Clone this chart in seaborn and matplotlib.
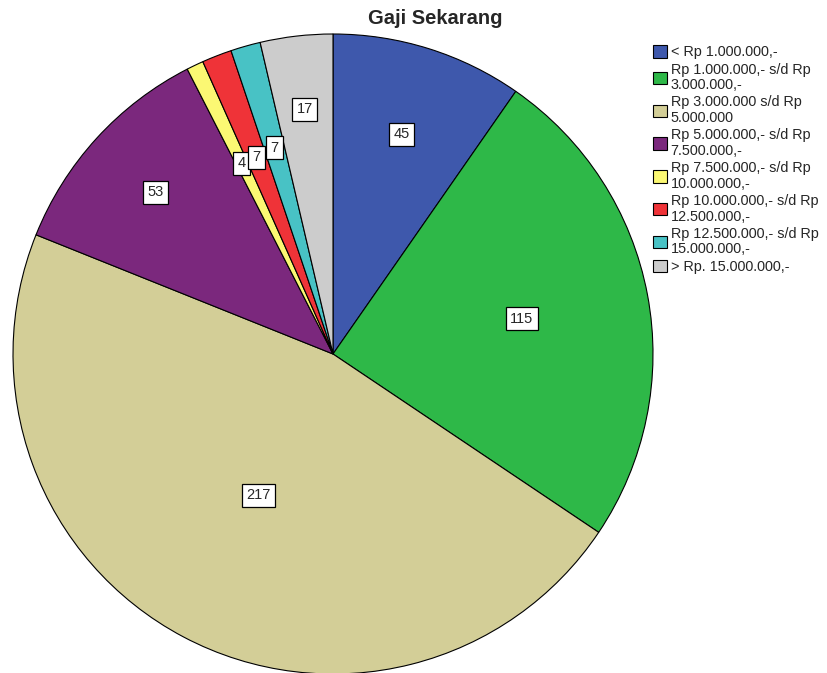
import numpy as np
import matplotlib
matplotlib.use("Agg")
import matplotlib.pyplot as plt
import seaborn as sns

# data
categories = ["< Rp 1.000.000,-",
              "Rp 1.000.000,- s/d Rp\n3.000.000,-",
              "Rp 3.000.000 s/d Rp\n5.000.000",
              "Rp 5.000.000,- s/d Rp\n7.500.000,-",
              "Rp 7.500.000,- s/d Rp\n10.000.000,-",
              "Rp 10.000.000,- s/d Rp\n12.500.000,-",
              "Rp 12.500.000,- s/d Rp\n15.000.000,-",
              "> Rp. 15.000.000,-"]
counts = [45, 115, 217, 53, 4, 7, 7, 17]
colors = ["#3E58AC", "#2EB848", "#D3CE97", "#7B287D",
          "#FBF873", "#EF3338", "#48C2C5", "#CCCCCC"]
# how far out each count label sits (fraction of radius)
label_r = [0.72, 0.6, 0.5, 0.75, 0.66, 0.66, 0.67, 0.77]

sns.set_style("white")
plt.rcParams['font.family'] = ['Liberation Sans', 'DejaVu Sans']

fig = plt.figure(figsize=(8.27, 6.73), dpi=100)
ax = fig.add_axes([13/827, -1/673, 640/827, 640/673])

wedges, _ = ax.pie(counts, colors=sns.color_palette(colors), startangle=90,
                   counterclock=False, radius=1,
                   wedgeprops=dict(edgecolor="black", linewidth=0.8))
ax.set_xlim(-1, 1)
ax.set_ylim(-1, 1)
ax.set_aspect("equal")
ax.axis("off")

for w, n, r in zip(wedges, counts, label_r):
    ang = np.deg2rad((w.theta1 + w.theta2) / 2)
    ax.text(r * np.cos(ang), r * np.sin(ang), str(n), ha="center", va="center",
            fontsize=10.5,
            bbox=dict(boxstyle="square,pad=0.3", fc="white", ec="black", lw=0.9))

fig.text(435/827, 1 - 19/673, "Gaji Sekarang", ha="center", va="center",
         fontsize=14.5, fontweight="bold")

leg = fig.legend(wedges, categories, loc="upper left",
                 bbox_to_anchor=(646/827, 1 - 38/673), frameon=False,
                 fontsize=10.4, handlelength=0.95, handleheight=0.95,
                 handletextpad=0.25, labelspacing=0.22, borderpad=0)
for t in leg.get_texts():
    t.set_linespacing(1.15)

fig.savefig("out.png", dpi=100)
